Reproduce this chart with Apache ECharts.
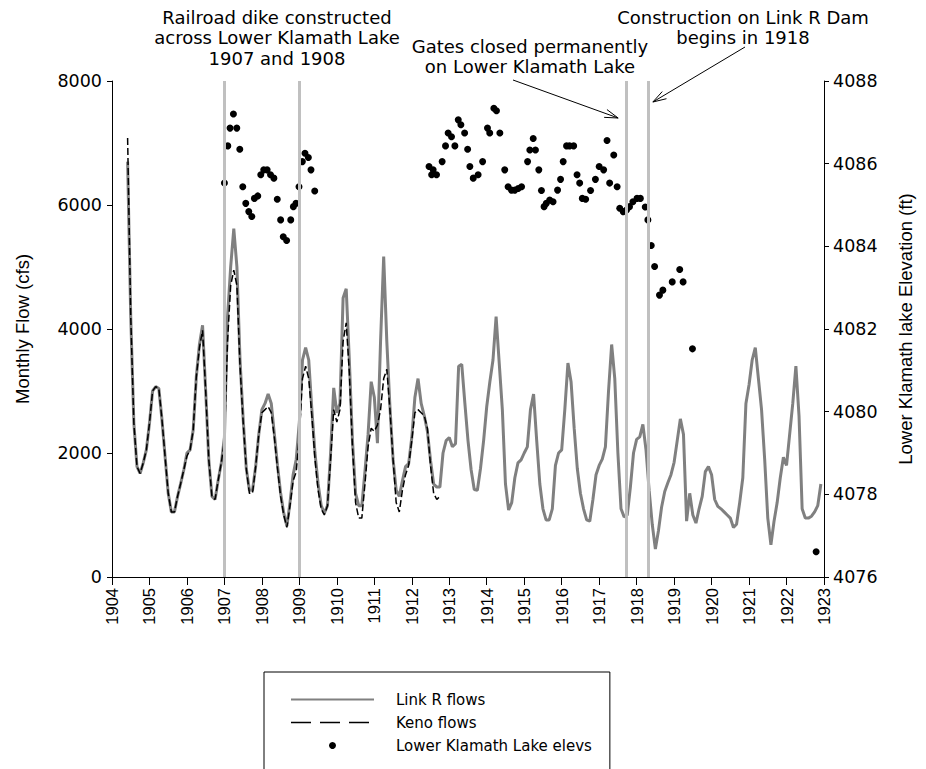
<!DOCTYPE html>
<html>
<head>
<meta charset="utf-8">
<script src="https://cdn.jsdelivr.net/npm/echarts@6.0.0/dist/echarts.min.js"></script>
<style>
  html, body { margin: 0; padding: 0; background: #ffffff; }
  #chart { width: 926px; height: 769px; }
</style>
</head>
<body>
<div id="chart"></div>
<script>
// Monthly flow records begin in June 1904 (month index 5, January = 0)
const flowStartYear = 1904;
const flowStartMonth = 5;

// Link River monthly flows (cfs)
const linkRFlows = [
  6700, 4200, 2480, 1780, 1670, 1840, 2050, 2480, 3000, 3070, 3040, 2540,
  1940, 1350, 1050, 1050, 1300, 1510, 1730, 2000, 2050, 2370, 3230, 3750,
  4060, 3000, 1890, 1300, 1250, 1560, 1840, 2250, 4200, 5000, 5620, 5000,
  3500, 2550, 1750, 1400, 1400, 1780, 2300, 2700, 2800, 2950, 2800, 2300,
  1800, 1350, 1030, 820, 1200, 1650, 1900, 2500, 3500, 3700, 3500, 2700,
  2000, 1500, 1150, 1030, 1150, 2000, 3050, 2650, 2800, 4500, 4650, 3500,
  2200, 1350, 1150, 1150, 1700, 2300, 3150, 2900, 2160, 3800, 5170, 3800,
  2750, 1900, 1400, 1300, 1550, 1780, 1830, 2250, 2900, 3200, 2800, 2600,
  2350, 1880, 1500, 1450, 1450, 2000, 2200, 2250, 2100, 2150, 3400, 3430,
  2800, 2200, 1730, 1410, 1400, 1750, 2200, 2750, 3150, 3500, 4200, 3450,
  2700, 1500, 1080, 1200, 1600, 1840, 1890, 2000, 2100, 2700, 2950, 2200,
  1500, 1100, 920, 920, 1100, 1800, 2000, 2050, 2700, 3450, 3150, 2400,
  1750, 1350, 1100, 920, 900, 1250, 1650, 1800, 1900, 2100, 3000, 3750,
  3200, 2000, 1100, 970, 1000, 1450, 2000, 2220, 2260, 2460, 2050, 1400,
  850, 450, 750, 1130, 1380, 1520, 1650, 1850, 2200, 2550, 2300, 900,
  1350, 1000, 870, 1100, 1300, 1700, 1780, 1650, 1250, 1140, 1100, 1050,
  1000, 950, 800, 850, 1200, 1600, 2800, 3100, 3500, 3700, 3200, 2700,
  1900, 950, 520, 900, 1200, 1600, 1930, 1800, 2300, 2800, 3400, 2600,
  1100, 950, 950, 980, 1050, 1150, 1500
];

// Keno monthly flows (cfs)
const kenoFlows = [
  7080, 4200, 2480, 1780, 1670, 1840, 2050, 2480, 3000, 3070, 3040, 2540,
  1940, 1350, 1050, 1050, 1300, 1510, 1730, 1950, 2050, 2370, 3230, 3700,
  3980, 3000, 1890, 1300, 1250, 1560, 1840, 2200, 3800, 4700, 4950, 4700,
  3400, 2500, 1750, 1350, 1350, 1780, 2300, 2650, 2700, 2750, 2650, 2250,
  1750, 1300, 1000, 800, 1150, 1550, 1700, 2300, 3200, 3400, 3200, 2600,
  1900, 1400, 1100, 1000, 1150, 1900, 2700, 2500, 2700, 3800, 4100, 3300,
  2100, 1200, 950, 950, 1500, 2100, 2400, 2350, 2450, 2700, 3200, 3350,
  2700, 1900, 1200, 1050, 1400, 1650, 1800, 2200, 2650, 2700, 2650, 2600,
  2400, 1800, 1350, 1250, 1300
];

// Lower Klamath Lake stage readings: date (decimal year) and elevation (ft)
const lakeDates = [
  1907.00, 1907.09, 1907.15, 1907.24, 1907.33, 1907.41, 1907.49, 1907.57, 1907.65, 1907.73,
  1907.80, 1907.89, 1907.97, 1908.05, 1908.14, 1908.23, 1908.32, 1908.41, 1908.50, 1908.57,
  1908.66, 1908.77, 1908.84, 1908.91, 1908.99, 1909.08, 1909.15, 1909.24, 1909.31, 1909.41,
  1912.46, 1912.53, 1912.57, 1912.66, 1912.81, 1912.90, 1912.97, 1913.06, 1913.15, 1913.24,
  1913.31, 1913.41, 1913.49, 1913.55, 1913.64, 1913.77, 1913.89, 1914.02, 1914.08, 1914.19,
  1914.26, 1914.35, 1914.48, 1914.57, 1914.66, 1914.75, 1914.84, 1914.93, 1915.09, 1915.15,
  1915.24, 1915.30, 1915.39, 1915.46, 1915.53, 1915.59, 1915.68, 1915.77, 1915.89, 1915.97,
  1916.04, 1916.13, 1916.21, 1916.32, 1916.41, 1916.48, 1916.55, 1916.64, 1916.77, 1916.90,
  1917.00, 1917.12, 1917.21, 1917.28, 1917.39, 1917.48, 1917.55, 1917.64, 1917.73, 1917.81,
  1917.90, 1918.01, 1918.10, 1918.23, 1918.30, 1918.39, 1918.48, 1918.61, 1918.70, 1918.95,
  1919.15, 1919.24, 1919.49, 1922.79
];
const lakeElevs = [
  4085.53, 4086.43, 4086.86, 4087.20, 4086.86, 4086.35, 4085.44, 4085.04, 4084.84, 4084.72,
  4085.16, 4085.22, 4085.73, 4085.85, 4085.85, 4085.73, 4085.65, 4085.14, 4084.64, 4084.23,
  4084.14, 4084.64, 4084.96, 4085.04, 4085.44, 4086.05, 4086.25, 4086.15, 4085.85, 4085.34,
  4085.93, 4085.73, 4085.85, 4085.73, 4086.05, 4086.43, 4086.74, 4086.65, 4086.43, 4087.06,
  4086.94, 4086.74, 4086.35, 4085.93, 4085.65, 4085.73, 4086.05, 4086.86, 4086.74, 4087.34,
  4087.28, 4086.74, 4085.85, 4085.44, 4085.36, 4085.36, 4085.40, 4085.44, 4086.05, 4086.33,
  4086.61, 4086.33, 4085.85, 4085.35, 4084.96, 4085.04, 4085.12, 4085.08, 4085.36, 4085.62,
  4086.05, 4086.43, 4086.43, 4086.43, 4085.73, 4085.53, 4085.16, 4085.14, 4085.35, 4085.62,
  4085.93, 4085.85, 4086.56, 4085.53, 4086.21, 4085.44, 4084.92, 4084.84, 4084.88, 4084.96,
  4085.08, 4085.16, 4085.16, 4084.95, 4084.64, 4084.02, 4083.51, 4082.82, 4082.94, 4083.14,
  4083.44, 4083.14, 4081.52, 4076.61
];

// Dates of the marked events (decimal years)
const eventYears = [1907.0, 1909.0, 1917.72, 1918.3];

// Axis ranges and labels
const yearMin = 1904, yearMax = 1923;
const flowTicks = [0, 2000, 4000, 6000, 8000];
const elevTicks = [4076, 4078, 4080, 4082, 4084, 4086, 4088];

const seriesNames = ['Link R flows', 'Keno flows', 'Lower Klamath Lake elevs'];
const noteDike = ['Railroad dike constructed', 'across Lower Klamath Lake', '1907 and 1908'];
const noteGates = ['Gates closed permanently', 'on Lower Klamath Lake'];
const noteDam = ['Construction on Link R Dam', 'begins in 1918'];

const toMonthly = (vals) => vals.map((v, i) => [flowStartYear + (flowStartMonth + i) / 12, v]);
const lakePoints = lakeDates.map((d, i) => [d, lakeElevs[i]]);

const chart = echarts.init(document.getElementById('chart'), null, { renderer: 'svg' });

const plainNumber = (v) => String(v);
const tickFont = { fontFamily: 'DejaVu Sans', fontSize: 17.5, color: '#000' };
const titleFont = { fontFamily: 'Liberation Sans', fontSize: 18.5, color: '#000' };
const hiddenSymbol = { opacity: 0 };

const option = {
  animation: false,
  backgroundColor: '#ffffff',
  grid: { left: 112, right: 102, top: 81, bottom: 192 },
  xAxis: {
    type: 'value', min: yearMin, max: yearMax, interval: 1,
    axisLine: { lineStyle: { color: '#000', width: 1 } },
    axisTick: { inside: false, length: 8, lineStyle: { color: '#000' } },
    splitLine: { show: false },
    axisLabel: {
      rotate: 90, margin: 11, formatter: plainNumber,
      fontFamily: 'Liberation Sans', fontSize: 16.5, color: '#000'
    }
  },
  yAxis: [
    {
      type: 'value', min: flowTicks[0], max: flowTicks[flowTicks.length - 1], interval: flowTicks[1] - flowTicks[0],
      position: 'left',
      name: 'Monthly Flow (cfs)', nameLocation: 'middle', nameRotate: 90, nameGap: 80,
      nameTextStyle: titleFont,
      axisLine: { show: true, lineStyle: { color: '#000', width: 1 } },
      axisTick: { show: true, inside: false, length: 5, lineStyle: { color: '#000' } },
      splitLine: { show: false },
      axisLabel: Object.assign({ margin: 10, formatter: plainNumber }, tickFont)
    },
    {
      type: 'value', min: elevTicks[0], max: elevTicks[elevTicks.length - 1], interval: elevTicks[1] - elevTicks[0],
      position: 'right',
      name: 'Lower Klamath lake Elevation (ft)', nameLocation: 'middle', nameRotate: 90, nameGap: 72,
      nameTextStyle: titleFont,
      axisLine: { show: true, lineStyle: { color: '#000', width: 1 } },
      axisTick: { show: true, inside: false, length: 5, lineStyle: { color: '#000' } },
      splitLine: { show: false },
      axisLabel: Object.assign({ margin: 9, formatter: plainNumber }, tickFont)
    }
  ],
  legend: {
    orient: 'vertical', left: 264, top: 672, height: 110,
    padding: [20, 18, 30, 26],
    borderColor: '#000', borderWidth: 1, borderRadius: 0,
    itemWidth: 83, itemHeight: 7, itemGap: 8,
    textStyle: { fontFamily: 'DejaVu Sans', fontSize: 15, lineHeight: 15, color: '#000', padding: [0, 0, 0, 17] },
    data: [
      { name: seriesNames[0], itemStyle: hiddenSymbol },
      { name: seriesNames[1], itemStyle: hiddenSymbol, lineStyle: { type: [20, 9], width: 1.5 } },
      { name: seriesNames[2], icon: 'circle' }
    ]
  },
  series: [
    {
      name: 'events', type: 'line', data: [], z: 1, silent: true,
      markLine: {
        silent: true, symbol: 'none', animation: false,
        label: { show: false },
        lineStyle: { color: '#c0c0c0', width: 3, type: 'solid' },
        data: eventYears.map((y) => ({ xAxis: y }))
      }
    },
    {
      name: seriesNames[0], type: 'line', data: toMonthly(linkRFlows), z: 2,
      symbol: 'none', showSymbol: false,
      lineStyle: { color: '#808080', width: 3 }, itemStyle: { color: '#808080' }
    },
    {
      name: seriesNames[1], type: 'line', data: toMonthly(kenoFlows), z: 3,
      symbol: 'none', showSymbol: false,
      lineStyle: { color: '#000', width: 1.5, type: [7, 3] }, itemStyle: { color: '#000' }
    },
    {
      name: seriesNames[2], type: 'scatter', yAxisIndex: 1, data: lakePoints, z: 4,
      symbol: 'circle', symbolSize: 7, itemStyle: { color: '#000', opacity: 1 }
    }
  ]
};

chart.setOption(option);

// Annotation text and arrows above the plot
function textBlock(lines, cx, firstY, gap) {
  return lines.map((t, i) => ({
    type: 'text', silent: true,
    style: {
      text: t, x: cx, y: firstY + i * gap, align: 'center', verticalAlign: 'middle',
      font: '18px "DejaVu Sans"', fill: '#000'
    }
  }));
}
function arrow(x1, y1, x2, y2) {
  const ang = Math.atan2(y2 - y1, x2 - x1);
  const len = 14, spread = 0.3;
  const hx1 = x2 - len * Math.cos(ang - spread), hy1 = y2 - len * Math.sin(ang - spread);
  const hx2 = x2 - len * Math.cos(ang + spread), hy2 = y2 - len * Math.sin(ang + spread);
  return [
    { type: 'line', silent: true, shape: { x1, y1, x2, y2 }, style: { stroke: '#000', lineWidth: 1 } },
    { type: 'polyline', silent: true, shape: { points: [[hx1, hy1], [x2, y2], [hx2, hy2]] }, style: { stroke: '#000', lineWidth: 1, fill: null } }
  ];
}

const gateX = chart.convertToPixel({ xAxisIndex: 0 }, eventYears[2]);
const damX = chart.convertToPixel({ xAxisIndex: 0 }, eventYears[3]);

chart.setOption({
  graphic: [].concat(
    textBlock(noteDike, 277, 17, 20.5),
    textBlock(noteGates, 530, 46, 20.5),
    textBlock(noteDam, 743, 17, 20.5),
    arrow(513, 80, gateX - 8, 118),
    arrow(745, 47, damX + 5, 102)
  )
});
</script>
</body>
</html>
